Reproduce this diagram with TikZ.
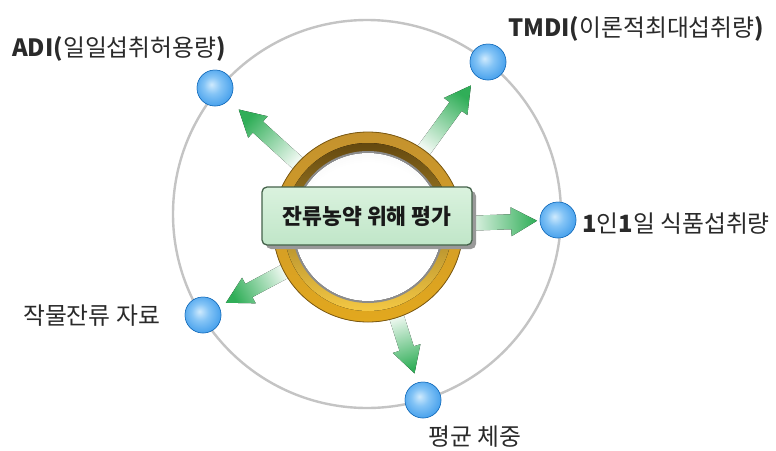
\documentclass[tikz,border=0pt]{standalone}
\usepackage{fontspec}
\newfontfamily\krfont{Noto Sans CJK KR}
\usetikzlibrary{calc,shadows}

\definecolor{orbitgray}{HTML}{C4C4C4}
\definecolor{ballhi}{HTML}{CFEAFD}
\definecolor{ballmid}{HTML}{84C4F6}
\definecolor{balllo}{HTML}{2E92E8}
\definecolor{balledge}{HTML}{1A7ED8}
\definecolor{arrowtail}{HTML}{EEF8F0}
\definecolor{arrowhead}{HTML}{30AE58}
\definecolor{goldtop}{HTML}{C4922E}
\definecolor{goldbot}{HTML}{E2A81E}
\definecolor{goldline}{HTML}{7D5A12}
\definecolor{beveltop}{HTML}{64480F}
\definecolor{bevelbot}{HTML}{F4C844}
\definecolor{boxfill}{HTML}{C0E6C8}
\definecolor{boxtop}{HTML}{DAF2DE}
\definecolor{boxline}{HTML}{44624A}
\definecolor{labeltext}{HTML}{2A2A2A}

\pgfdeclareradialshading{blueball}{\pgfpoint{-5bp}{5bp}}{%
  color(0bp)=(ballhi); color(12bp)=(ballmid); color(34bp)=(balllo); color(50bp)=(balledge)}
\pgfdeclareradialshading{discshade}{\pgfpoint{0bp}{-8bp}}{%
  color(0bp)=(white); color(26bp)=(white); color(44bp)=(black!12); color(56bp)=(black!40)}

% shaded green arrow from one node towards another
% #1 source node, #2 target node, #3 distance of the tail from #1, #4 gap of the tip before #2
\newcommand\greenarrow[4]{%
  \pgfmathanglebetweenpoints{\pgfpointanchor{#1}{center}}{\pgfpointanchor{#2}{center}}%
  \pgfmathsetmacro\arrshade{\pgfmathresult+90}%
  \coordinate (at) at ($(#1.center)!#3!(#2.center)$);
  \coordinate (ah) at ($(#2.center)!#4!(#1.center)$);
  \coordinate (an) at ($(ah)!26pt!(at)$);
  \fill[top color=arrowtail, bottom color=arrowhead, shading angle=\arrshade]
    ($(at)!7.5pt!90:(ah)$) -- ($(an)!7.5pt!-90:(at)$) -- ($(an)!14.5pt!-90:(at)$) -- (ah)
    -- ($(an)!14.5pt!90:(at)$) -- ($(an)!7.5pt!90:(at)$) -- ($(at)!7.5pt!-90:(ah)$) -- cycle;
}

\tikzset{
  ballnode/.style={circle, minimum size=36pt, inner sep=0pt, shading=blueball, draw=balledge!85!black, line width=0.5pt},
  lbl/.style={inner sep=0pt, text=labeltext, font=\krfont\fontsize{23.8}{26}\selectfont},
  titlebox/.style={rounded corners=5pt, minimum width=210pt, minimum height=58pt, draw=boxline, line width=1.3pt,
    top color=boxtop, bottom color=boxfill, text=black!90,
    font=\krfont\bfseries\fontsize{21.6}{24}\selectfont,
    drop shadow={shadow xshift=4pt, shadow yshift=-4pt, fill=black!40, opacity=1}},
}

\begin{document}
\begin{tikzpicture}[x=1pt, y=-1pt]
  \useasboundingbox (0,0) rectangle (776,450);
  \fill[white] (0,0) rectangle (776,450);

  % orbit
  \node[circle, draw=orbitgray, line width=2.4pt, minimum size=388pt, inner sep=0pt] (orbit) at (367,214) {};

  % centre and satellites
  \coordinate (ring) at (368,227);
  \node[ballnode] (adi)  at (215,88)  {};
  \node[ballnode] (tmdi) at (488,62)  {};
  \node[ballnode] (food) at (558,220) {};
  \node[ballnode] (crop) at (203,315) {};
  \node[ballnode] (body) at (423,400) {};

  % arrows, drawn below the ring
  \greenarrow{ring}{adi}{92pt}{32pt}
  \greenarrow{ring}{tmdi}{92pt}{29pt}
  \greenarrow{ring}{food}{98pt}{21pt}
  \greenarrow{ring}{crop}{92pt}{26pt}
  \greenarrow{ring}{body}{92pt}{28pt}

  % golden ring
  \fill[top color=goldtop, bottom color=goldbot, draw=goldline, line width=0.8pt] (ring) circle[radius=95pt];
  \fill[top color=beveltop, bottom color=bevelbot] (ring) circle[radius=84pt];
  \fill[black!45] (ring) circle[radius=76pt];
  \fill[shading=discshade] (ring) circle[radius=74pt];

  % title
  \node[titlebox] (title) at (367,216) {잔류농약 위해 평가};

  % balls on top
  \foreach \b in {adi,tmdi,food,crop,body}
    \node[ballnode] at (\b) {};

  % labels
  \node[lbl, anchor=base west] (adilbl)  at (12,56)   {\textbf{ADI(}일일섭취허용량\textbf{)}};
  \node[lbl, anchor=base west] (tmdilbl) at (508,36)  {\textbf{TMDI(}이론적최대섭취량\textbf{)}};
  \node[lbl, anchor=base west] (foodlbl) at (582,232) {\textbf{1}인\textbf{1}일 식품섭취량};
  \node[lbl, anchor=base west] (croplbl) at (23,324)  {작물잔류 자료};
  \node[lbl, anchor=base west] (bodylbl) at (428,445) {평균 체중};
\end{tikzpicture}
\end{document}
